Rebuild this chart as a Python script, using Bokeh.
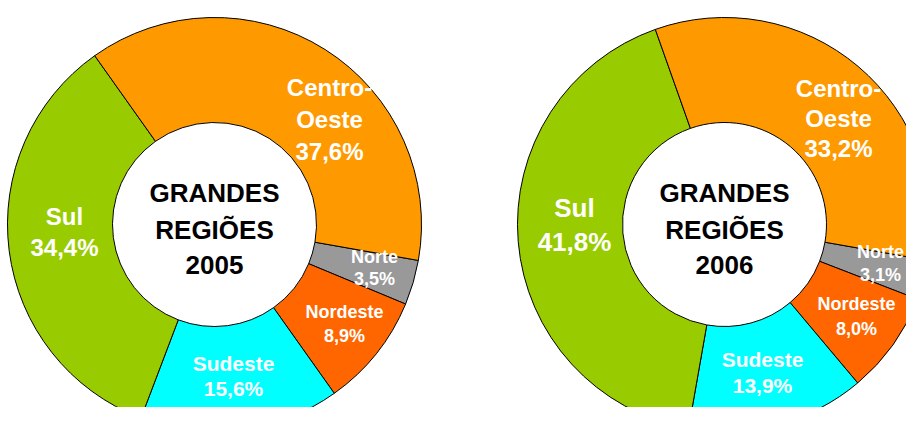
import math
from bokeh.plotting import figure
from bokeh.models import Range1d, ColumnDataSource
from bokeh.core.properties import value
from bokeh.embed import file_html
from bokeh.resources import INLINE

# ---- data ----
regions = ["Norte", "Nordeste", "Sudeste", "Sul", "Centro-Oeste"]
values_2005 = [3.5, 8.9, 15.6, 34.4, 37.6]
values_2006 = [3.1, 8.0, 13.9, 41.8, 33.2]
colors = ["#999999", "#FF6600", "#00FFFF", "#99CC00", "#FF9900"]
years = ["2005", "2006"]
center_title = ["GRANDES", "REGIÕES"]

# ---- layout (image pixel coordinates; data y = H - image y) ----
W, H = 922, 423
PW, PH = 906, 407
centers = [(214, 224), (724, 224)]
r_outer = 207
r_inner = 102
first_slice_bearing = 100.0  # degrees clockwise from 12 o'clock

# label anchors per slice (image px): first line centre, line spacing
label_pos = {
    "2005": [(374, 256, 22), (344, 311, 24), (233, 363, 25), (64, 216, 31), (329, 87, 32)],
    "2006": [(880, 251, 23), (856, 303, 25), (762, 359, 26), (574, 207, 34), (838, 88, 30)],
}
label_size = {
    "2005": [18, 18, 21, 24, 24],
    "2006": [18, 18, 21, 26, 24],
}

p = figure(width=PW, height=PH, output_backend="svg",
           toolbar_location=None, x_axis_type=None, y_axis_type=None,
           x_range=Range1d(0, PW), y_range=Range1d(H - PH, H),
           min_border=0)
p.outline_line_color = None
p.grid.visible = False
p.background_fill_color = "white"


def fmt(v):
    return f"{v:.1f}".replace(".", ",") + "%"


for yr, vals, (cx, cy) in zip(years, [values_2005, values_2006], centers):
    total = sum(vals)
    start = math.radians(90 - first_slice_bearing)
    starts, ends = [], []
    a = start
    for v in vals:
        b = a - v / total * 2 * math.pi
        starts.append(a)
        ends.append(b)
        a = b
    src = ColumnDataSource(dict(x=[cx] * len(vals), y=[H - cy] * len(vals),
                                start=starts, end=ends, color=colors))
    p.annular_wedge(x="x", y="y", inner_radius=r_inner, outer_radius=r_outer,
                    start_angle="start", end_angle="end", direction="clock",
                    fill_color="color", line_color="black", line_width=1,
                    source=src)

    # slice labels
    tx, ty, tt, ts = [], [], [], []
    for reg, v, (lx, ly, dy), sz in zip(regions, vals, label_pos[yr], label_size[yr]):
        lines = (["Centro-", "Oeste"] if reg == "Centro-Oeste" else [reg]) + [fmt(v)]
        for i, line in enumerate(lines):
            tx.append(lx)
            ty.append(H - (ly + i * dy))
            tt.append(line)
            ts.append(f"{sz}px")
    p.text(x=tx, y=ty, text=tt, text_font_size=ts, text_color="white",
           text_font=value("Liberation Sans"), text_font_style="bold",
           text_align="center", text_baseline="middle")

    # centre title
    ct = center_title + [yr]
    p.text(x=[cx] * 3, y=[H - 192, H - 229, H - 264], text=ct,
           text_font_size="26px", text_color="black",
           text_font=value("Liberation Sans"), text_font_style="bold",
           text_align="center", text_baseline="middle")

open("out.html", "w").write(file_html(p, INLINE))
